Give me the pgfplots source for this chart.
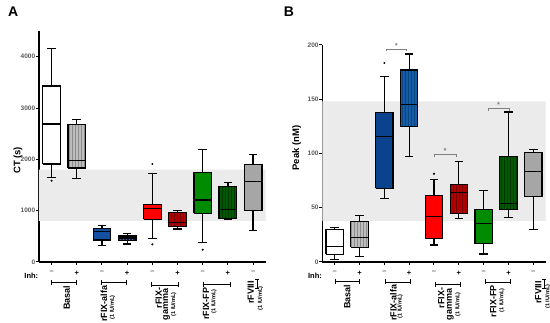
\documentclass[border=0pt]{standalone}
\usepackage{pgfplots}
\pgfplotsset{compat=1.18}
\usetikzlibrary{patterns}
\usepackage{fontspec}
\setmainfont{Liberation Sans}
\setsansfont{Liberation Sans}
\definecolor{band}{HTML}{EBEBEB}
\definecolor{tickgray}{HTML}{5A5A5A}
\definecolor{basalp}{HTML}{BDBDBD}
\definecolor{alfaAm}{HTML}{1550A0}
\definecolor{alfaAp}{HTML}{0B2650}
\definecolor{alfaBm}{HTML}{0A428E}
\definecolor{alfaBp}{HTML}{135CA8}
\definecolor{gamm}{HTML}{FF0000}
\definecolor{gamp}{HTML}{B00000}
\definecolor{fpm}{HTML}{008A00}
\definecolor{fpp}{HTML}{005A00}
\definecolor{fviii}{HTML}{A6A6A6}
\pgfplotsset{
  panel/.style={
    scale only axis, clip=false,
    xmin=0.5, xmax=9.5, ymin=0,
    axis x line*=bottom, axis y line*=left,
    axis line style={line width=1.3pt, black},
    tick align=outside, major tick length=3pt,
    tick style={black, line width=1pt},
    xtick={1,...,9},
    xticklabels={\textcolor{tickgray}{–},+,\textcolor{tickgray}{–},+,\textcolor{tickgray}{–},+,\textcolor{tickgray}{–},+,\textcolor{tickgray}{–}},
    xticklabel style={font=\fontsize{7.5}{8}\selectfont\bfseries, yshift=-2.5pt},
    yticklabel style={font=\fontsize{6.5}{7}\selectfont\bfseries, color=tickgray, inner sep=0.6pt},
    /pgf/number format/1000 sep={}, /pgf/number format/assume math mode=true,
    ylabel style={font=\fontsize{9.5}{11}\selectfont\bfseries, anchor=center},
  },
}
\tikzset{hatch/.style={postaction={pattern=vertical lines, pattern color=#1}}}
% box: #1 pos, #2 lower whisker, #3 lower quartile, #4 median, #5 upper quartile, #6 upper whisker, #7 fill style
\newcommand\bp[7]{%
 \addplot[draw=black, line width=1.2pt] table[row sep=\\, x expr=\thisrow{d}+#1, y=v] {d v\\ 0 #2\\ 0 #6\\};
 \addplot[draw=black, line width=1.2pt] table[row sep=\\, x expr=\thisrow{d}+#1, y=v] {d v\\ -0.17 #2\\ 0.17 #2\\};
 \addplot[draw=black, line width=1.2pt] table[row sep=\\, x expr=\thisrow{d}+#1, y=v] {d v\\ -0.17 #6\\ 0.17 #6\\};
 \addplot[#7, draw=black, line width=1.2pt] table[row sep=\\, x expr=\thisrow{d}+#1, y=v] {d v\\ -0.35 #3\\ 0.35 #3\\ 0.35 #5\\ -0.35 #5\\ -0.35 #3\\};
 \addplot[draw=black, line width=1.2pt] table[row sep=\\, x expr=\thisrow{d}+#1, y=v] {d v\\ -0.35 #4\\ 0.35 #4\\};
}
\newcommand\lab[4]{\node[rotate=90, anchor=east, inner sep=0pt, font=#4] at (#1pt,-#2pt) {#3};}
\newcommand\brk[3]{\draw[line width=0.9pt] (#1pt,-#3pt) -- (#2pt,-#3pt) (#1pt,-#3pt) ++(0,2.5pt) -- ++(0,-5pt) (#2pt,-#3pt) ++(0,2.5pt) -- ++(0,-5pt);}
\newcommand\ibeam[1]{\draw[line width=0.9pt] (#1pt,-279pt) -- (#1pt,-288.5pt) (#1pt,-279pt) ++(-2pt,0) -- ++(4pt,0) (#1pt,-288.5pt) ++(-2pt,0) -- ++(4pt,0);}
\newcommand\mainf{\fontsize{9}{10}\selectfont\bfseries}
\newcommand\subf{\fontsize{5.6}{6}\selectfont\bfseries}
\begin{document}
\begin{tikzpicture}
\path[use as bounding box] (0,0) rectangle (550pt,-323pt);
% ---------------- Panel A ----------------
\begin{axis}[panel, at={(39pt,-262pt)}, anchor=south west,
  width=226.7pt, height=231pt, ymax=4500,
  ytick={0,1000,2000,3000,4000},
  ylabel={CT (s)}, ylabel style={at={(axis description cs:-0.093,0.44)}}]
\addplot[fill=band, draw=none] coordinates {(0.5,800) (9.5,800) (9.5,1800) (0.5,1800) (0.5,800)};
\bp{1}{1650}{1909}{2688}{3429}{4156}{fill=white}
\bp{2}{1623}{1831}{1974}{2682}{2779}{fill=basalp, hatch={black!45}}
\bp{3}{325}{429}{597}{656}{714}{fill=alfaAm}
\bp{4}{351}{416}{468}{506}{558}{fill=alfaAp, hatch={alfaAp!70!white}}
\bp{5}{455}{831}{1045}{1117}{1727}{fill=gamm}
\bp{6}{643}{688}{766}{961}{1006}{fill=gamp, hatch={gamp!65!black}}
\bp{7}{377}{948}{1208}{1747}{2195}{fill=fpm}
\bp{8}{831}{844}{1026}{1468}{1545}{fill=fpp, hatch={fpp!60!black}}
\bp{9}{610}{1000}{1571}{1896}{2091}{fill=fviii}
\addplot[only marks, mark=*, mark size=0.8pt, black] coordinates {(1,1584) (5,1909) (5,344) (7,240)};
\end{axis}
% ---------------- Panel B ----------------
\begin{axis}[panel, at={(322.3pt,-262pt)}, anchor=south west,
  width=223.4pt, height=217pt, ymax=200,
  ytick={0,50,100,150,200},
  ylabel={Peak (nM)}, ylabel style={at={(axis description cs:-0.115,0.525)}}]
\addplot[fill=band, draw=none] coordinates {(0.5,38) (9.5,38) (9.5,148) (0.5,148) (0.5,38)};
\bp{1}{2.5}{7.1}{14.1}{29.7}{31.6}{fill=white}
\bp{2}{5.2}{13.5}{22.4}{37.1}{43.2}{fill=basalp, hatch={black!45}}
\bp{3}{58.3}{67.8}{115.6}{138}{170.8}{fill=alfaBm}
\bp{4}{97.5}{125.1}{145}{177}{191.7}{fill=alfaBp, hatch={alfaBp!75!black}}
\bp{5}{15.6}{21.5}{42.3}{61}{76.1}{fill=gamm}
\bp{6}{39.9}{44.5}{64.4}{71.2}{92.9}{fill=gamp, hatch={gamp!65!black}}
\bp{7}{7.4}{16.9}{35.3}{48.2}{65.6}{fill=fpm}
\bp{8}{40.8}{48.2}{53.7}{96.9}{138.3}{fill=fpp, hatch={fpp!60!black}}
\bp{9}{29.7}{60.1}{83.1}{100.6}{103.7}{fill=fviii}
\addplot[only marks, mark=*, mark size=0.8pt, black] coordinates {(3,183.4) (5,81.3)};
% significance brackets
\addplot[gray, line width=0.6pt] coordinates {(3.06,194.5) (3.06,196.3) (3.89,196.3) (3.89,194.5)};
\addplot[gray, line width=0.6pt] coordinates {(5.03,97.2) (5.03,99) (5.9,99) (5.9,97.2)};
\addplot[gray, line width=0.6pt] coordinates {(7.18,139.6) (7.18,141.4) (8.03,141.4) (8.03,139.6)};
\node[gray, font=\fontsize{7.5}{8}\selectfont\bfseries, inner sep=0pt] at ([yshift=3.5pt]axis cs:3.48,196.3) {*};
\node[gray, font=\fontsize{7.5}{8}\selectfont\bfseries, inner sep=0pt] at ([yshift=3.5pt]axis cs:5.45,99) {*};
\node[gray, font=\fontsize{7.5}{8}\selectfont\bfseries, inner sep=0pt] at ([yshift=3.5pt]axis cs:7.6,141.4) {*};
\end{axis}
% ---------------- Panel letters ----------------
\node[font=\fontsize{14}{16}\selectfont\bfseries, inner sep=0pt] at (13.3pt,-11.7pt) {A};
\node[font=\fontsize{14}{16}\selectfont\bfseries, inner sep=0pt] at (289pt,-11.7pt) {B};
% ---------------- Inh row ----------------
\node[font=\fontsize{7.5}{8}\selectfont\bfseries, inner sep=0pt] at (31.3pt,-275.3pt) {Inh:};
\node[font=\fontsize{7.5}{8}\selectfont\bfseries, inner sep=0pt] at (315pt,-275.3pt) {Inh:};
% ---------------- group brackets A ----------------
\brk{51.7}{76.7}{282.7}
\brk{101.7}{126.7}{282.7}
\brk{151.7}{178.3}{285}
\brk{203.3}{230}{284.7}
\ibeam{257}
\lab{66.7}{285.5}{Basal}{\mainf}
\lab{104}{285.5}{rFIX-alfa}{\mainf}
\lab{112.5}{295}{(1 IU/mL)}{\subf}
\lab{158.7}{287.5}{rFIX-}{\mainf}
\lab{166.7}{288.5}{gamma}{\mainf}
\lab{173.7}{292}{(1 IU/mL)}{\subf}
\lab{206}{287.5}{rFIX-FP}{\mainf}
\lab{214}{289}{(1 IU/mL)}{\subf}
\lab{250.7}{281}{rFVIII}{\mainf}
\lab{260.5}{286}{(1 IU/mL)}{\subf}
% ---------------- group brackets B ----------------
\brk{335.7}{359}{281.3}
\brk{385}{410}{282}
\brk{435}{460}{284.7}
\brk{485}{510}{282}
\ibeam{544}
\lab{347.2}{284.5}{Basal}{\mainf}
\lab{393.3}{284.5}{rFIX-alfa}{\mainf}
\lab{400.3}{294}{(1 IU/mL)}{\subf}
\lab{441.2}{287.5}{rFIX-}{\mainf}
\lab{450.3}{288.5}{gamma}{\mainf}
\lab{458}{292}{(1 IU/mL)}{\subf}
\lab{493.3}{285}{rFIX-FP}{\mainf}
\lab{502}{288}{(1 IU/mL)}{\subf}
\lab{538.3}{281}{rFVIII}{\mainf}
\lab{548}{284.5}{(1 IU/mL)}{\subf}
\end{tikzpicture}
\end{document}
